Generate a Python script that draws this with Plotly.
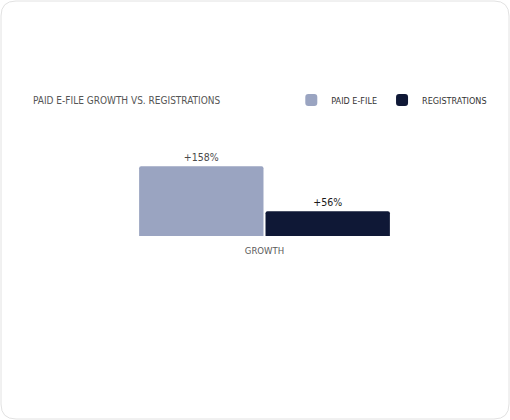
"""Paid e-file growth vs. registrations – single-category grouped bar card."""
import plotly.graph_objects as go

# ── Data ─────────────────────────────────────────────────────────────────────
categories = ["GROWTH"]
series_names = ["PAID E-FILE", "REGISTRATIONS"]
paid_efile = [158]
registrations = [56]

# ── Design tokens ────────────────────────────────────────────────────────────
_LIGHT = "#9aa4c1"
_DARK = "#0f1836"
_TEXT = "#555555"
_FONT = "DejaVu Sans Condensed, Roboto, sans-serif"

fig = go.Figure()
fig.add_trace(
    go.Bar(
        x=categories,
        y=paid_efile,
        name=series_names[0],
        marker=dict(color=_LIGHT, cornerradius=2, line=dict(width=0)),
        text=[f"+{v}%" for v in paid_efile],
        textposition="outside",
        textfont=dict(size=10.5, color="#4a4a4a"),
        cliponaxis=False,
    )
)
fig.add_trace(
    go.Bar(
        x=categories,
        y=registrations,
        name=series_names[1],
        marker=dict(color=_DARK, cornerradius=2, line=dict(width=0)),
        text=[f"+{v}%" for v in registrations],
        textposition="outside",
        textfont=dict(size=10.5, color="#1a1a1a"),
        cliponaxis=False,
    )
)

# rounded card outline, in pixels from the plot area's top-left corner (33, 130)
card = (
    "M -17,129 L 461,129 Q 476,129 476,114 L 476,-274 Q 476,-289 461,-289 "
    "L -17,-289 Q -32,-289 -32,-274 L -32,114 Q -32,129 -17,129 Z"
)
fig.add_shape(
    type="path",
    xref="paper", yref="paper",
    xsizemode="pixel", ysizemode="pixel",
    xanchor=0, yanchor=1,
    path=card,
    line=dict(color="#e2e2e2", width=1),
    layer="below",
)

fig.update_layout(
    width=510,
    height=420,
    paper_bgcolor="white",
    plot_bgcolor="white",
    font=dict(family=_FONT, size=10, color=_TEXT),
    margin=dict(l=33, r=14, t=130, b=184, autoexpand=False),
    barmode="group",
    bargap=0.454,
    bargroupgap=0.016,
    showlegend=True,
    title=dict(
        text="PAID E-FILE GROWTH VS. REGISTRATIONS",
        font=dict(size=10, color=_TEXT),
        x=33 / 510, xanchor="left",
        y=1 - 100 / 420, yanchor="middle",
    ),
    legend=dict(
        orientation="h",
        x=0.992, xanchor="right",
        y=1 + 30 / 106, yanchor="middle",
        font=dict(size=9, color="#333333"),
        itemwidth=30,
        bgcolor="rgba(0,0,0,0)",
    ),
    xaxis=dict(
        showgrid=False, zeroline=False, showline=False,
        ticks="", ticklabelstandoff=7,
        tickfont=dict(size=9.5, color="#5a5a5a"),
    ),
    yaxis=dict(
        range=[0, 240], visible=False, showgrid=False, zeroline=False,
    ),
)

fig.write_html(
    "out.html",
    config={"displayModeBar": False},
    post_script="document.body.style.margin='0';",
)
